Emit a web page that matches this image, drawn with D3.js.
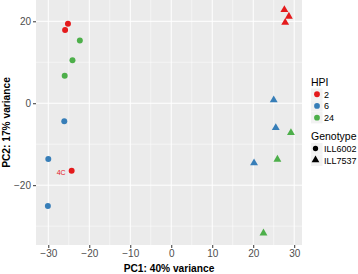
<!DOCTYPE html>
<html lang="en">
<head>
  <meta charset="UTF-8">
  <title>PCA plot</title>
  <script src="https://d3js.org/d3.v7.min.js"></script>
  <style>
    body { margin: 0; background: #fff; }
    text { font-family: 'Liberation Sans', Arial, sans-serif; }
  </style>
</head>
<body>
<script>
  const width = 358, height = 274;

  // data
  const pc1 = [-25.2, -25.9, -24.3, -26.1, -30.0, -30.1, -22.3, -24.1, -26.0,
               27.6, 28.7, 27.8, 25.0, 25.5, 20.2, 29.2, 25.9, 22.5];
  const pc2 = [19.4, 17.9, -16.5, -4.4, -13.6, -25.1, 15.3, 10.5, 6.7,
               22.8, 21.2, 19.7, 0.8, -6.0, -14.6, -7.2, -13.7, -31.7];
  const hpi = ['2', '2', '2', '6', '6', '6', '24', '24', '24',
               '2', '2', '2', '6', '6', '6', '24', '24', '24'];
  const genotype = ['ILL6002', 'ILL6002', 'ILL6002', 'ILL6002', 'ILL6002', 'ILL6002', 'ILL6002', 'ILL6002', 'ILL6002',
                    'ILL7537', 'ILL7537', 'ILL7537', 'ILL7537', 'ILL7537', 'ILL7537', 'ILL7537', 'ILL7537', 'ILL7537'];
  const labels = ['', '', '4C', '', '', '', '', '', '', '', '', '', '', '', '', '', '', ''];
  const hpiLevels = ['2', '6', '24'];
  const hpiColors = ['#E41A1C', '#377EB8', '#4DAF4A'];
  const genoLevels = ['ILL6002', 'ILL7537'];
  const xTicks = [-30, -20, -10, 0, 10, 20, 30];
  const yTicks = [-20, 0, 20];

  const points = pc1.map((d, i) => ({x: d, y: pc2[i], hpi: hpi[i], geno: genotype[i], label: labels[i]}));

  const panel = {left: 36, right: 302, top: 0, bottom: 245};

  const svg = d3.select('body').append('svg').attr('width', width).attr('height', height);

  const x = d3.scaleLinear().domain([-33, 31.9]).range([panel.left, panel.right]);
  const y = d3.scaleLinear().domain([-34.6, 25.2]).range([panel.bottom, panel.top]);
  const color = d3.scaleOrdinal().domain(hpiLevels).range(hpiColors);
  const shape = d3.scaleOrdinal().domain(genoLevels).range([d3.symbolCircle, d3.symbolTriangle]);

  // panel background
  svg.append('rect')
    .attr('x', panel.left).attr('y', panel.top)
    .attr('width', panel.right - panel.left).attr('height', panel.bottom - panel.top)
    .attr('fill', '#EBEBEB');

  // minor grid
  const xMinor = d3.range(-35, 35, 10).filter(v => v > x.domain()[0] && v < x.domain()[1]);
  const yMinor = d3.range(-30, 30, 20).filter(v => v > y.domain()[0] && v < y.domain()[1]);
  svg.append('g').selectAll('line').data(xMinor).join('line')
    .attr('x1', d => x(d)).attr('x2', d => x(d))
    .attr('y1', panel.top).attr('y2', panel.bottom)
    .attr('stroke', '#fff').attr('stroke-width', 0.5);
  svg.append('g').selectAll('line').data(yMinor).join('line')
    .attr('y1', d => y(d)).attr('y2', d => y(d))
    .attr('x1', panel.left).attr('x2', panel.right)
    .attr('stroke', '#fff').attr('stroke-width', 0.5);

  // major grid
  svg.append('g').selectAll('line').data(xTicks).join('line')
    .attr('x1', d => x(d)).attr('x2', d => x(d))
    .attr('y1', panel.top).attr('y2', panel.bottom)
    .attr('stroke', '#fff').attr('stroke-width', 1);
  svg.append('g').selectAll('line').data(yTicks).join('line')
    .attr('y1', d => y(d)).attr('y2', d => y(d))
    .attr('x1', panel.left).attr('x2', panel.right)
    .attr('stroke', '#fff').attr('stroke-width', 1);

  // axes
  const fmt = d => d < 0 ? '\u2212' + Math.abs(d) : d;
  const xAxis = svg.append('g')
    .attr('transform', `translate(0,${panel.bottom})`)
    .call(d3.axisBottom(x).tickValues(xTicks).tickSize(3).tickPadding(2).tickFormat(fmt));
  const yAxis = svg.append('g')
    .attr('transform', `translate(${panel.left},0)`)
    .call(d3.axisLeft(y).tickValues(yTicks).tickSize(3).tickPadding(2).tickFormat(fmt));
  [xAxis, yAxis].forEach(a => {
    a.select('.domain').remove();
    a.selectAll('.tick line').attr('stroke', '#333');
    a.selectAll('.tick text').attr('fill', '#4D4D4D').style('font-size', '10px').style('font-family', "'Liberation Sans', Arial, sans-serif");
  });

  // axis titles
  svg.append('text')
    .attr('x', (panel.left + panel.right) / 2).attr('y', 272)
    .attr('text-anchor', 'middle')
    .style('font-size', '10.2px').style('font-weight', 'bold')
    .text('PC1: 40% variance');
  svg.append('text')
    .attr('transform', `translate(9.5,${(panel.top + panel.bottom) / 2}) rotate(-90)`)
    .attr('text-anchor', 'middle')
    .style('font-size', '10.2px').style('font-weight', 'bold')
    .text('PC2: 17% variance');

  // points
  svg.append('g').selectAll('path').data(points).join('path')
    .attr('transform', d => `translate(${x(d.x)},${y(d.y)})`)
    .attr('d', d => d3.symbol().type(shape(d.geno)).size(d.geno === 'ILL6002' ? 28 : 27)())
    .attr('fill', d => color(d.hpi));

  // point labels
  svg.append('g').selectAll('text').data(points.filter(d => d.label)).join('text')
    .attr('x', d => x(d.x) - 6).attr('y', d => y(d.y) + 4.5)
    .attr('text-anchor', 'end')
    .attr('fill', d => color(d.hpi))
    .style('font-size', '7px')
    .text(d => d.label);

  // legends
  const legX = 311;
  const leg1 = svg.append('g');
  leg1.append('text').attr('x', legX).attr('y', 86).style('font-size', '10.5px').attr('fill', '#000').text('HPI');
  const items1 = leg1.selectAll('g').data(hpiLevels).join('g')
    .attr('transform', (d, i) => `translate(${legX},${88.5 + i * 11.7})`);
  items1.append('rect').attr('width', 11.5).attr('height', 11.5).attr('fill', '#F2F2F2');
  items1.append('path').attr('transform', 'translate(6,5.75)')
    .attr('d', d3.symbol().type(d3.symbolCircle).size(26)()).attr('fill', d => color(d));
  items1.append('text').attr('x', 13).attr('y', 9).style('font-size', '9px').attr('fill', '#000').text(d => d);

  const leg2 = svg.append('g');
  leg2.append('text').attr('x', legX).attr('y', 140).style('font-size', '10.5px').attr('fill', '#000').text('Genotype');
  const items2 = leg2.selectAll('g').data(genoLevels).join('g')
    .attr('transform', (d, i) => `translate(${legX},${143 + i * 11.5})`);
  items2.append('rect').attr('width', 11.5).attr('height', 11.5).attr('fill', '#F2F2F2');
  items2.append('path').attr('transform', 'translate(4.5,5.5)')
    .attr('d', d => d3.symbol().type(shape(d)).size(d === 'ILL6002' ? 22 : 26)()).attr('fill', '#000');
  items2.append('text').attr('x', 13).attr('y', 9).style('font-size', '9px').attr('fill', '#000').text(d => d);
</script>
</body>
</html>
